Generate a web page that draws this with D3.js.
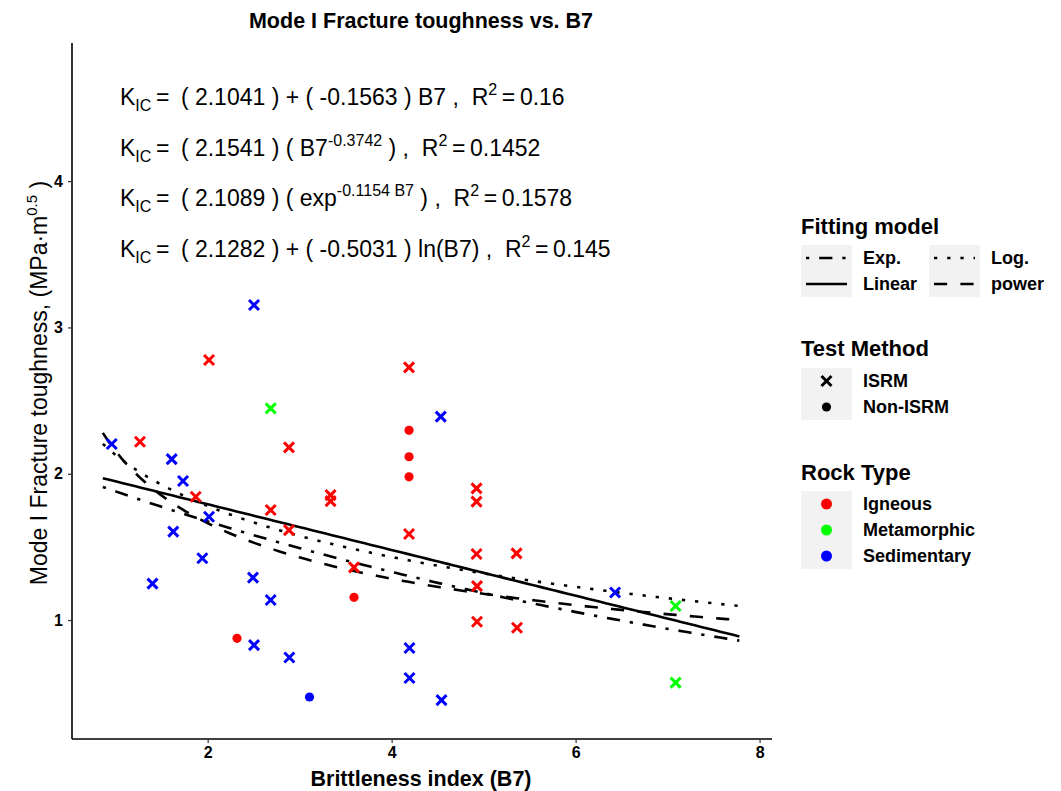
<!DOCTYPE html>
<html>
<head>
<meta charset="utf-8">
<script src="https://cdn.jsdelivr.net/npm/d3@7"></script>
<style>
body { margin: 0; background: #fff; }
text { font-family: "Liberation Sans", Arial, sans-serif; }
</style>
</head>
<body>
<svg width="1061" height="791"></svg>
<script>
// data
const rockTypes = ['Igneous', 'Metamorphic', 'Sedimentary']
const rockColors = ['#ff0000', '#00ff00', '#0000ff']
const testMethods = ['ISRM', 'Non-ISRM']

const b7 = [
	0.957, 1.609, 1.732, 2.015, 1.626, 1.942, 1.400, 2.493, 2.685, 2.504, 2.888, 2.504, 4.194, 4.194, 4.542, 4.534, 6.429,
	3.107,
	1.264, 2.015, 2.884, 1.870, 2.685, 2.884, 3.336, 3.336, 3.591, 4.189, 4.189, 4.923, 4.923, 4.923, 5.358, 4.928, 4.928, 5.363,
	4.189, 4.189, 4.189, 3.591, 2.319,
	2.685, 7.087, 7.087
]
const kic = [
	2.203, 2.100, 1.950, 1.706, 1.604, 1.422, 1.249, 1.290, 1.137, 0.829, 0.744, 3.153, 0.809, 0.604, 0.453, 2.390, 1.188,
	0.474,
	2.219, 2.777, 2.180, 1.843, 1.752, 1.615, 1.854, 1.813, 1.360, 2.727, 1.588, 1.900, 1.809, 1.451, 1.456, 1.232, 0.988, 0.947,
	2.297, 2.116, 1.979, 1.155, 0.875,
	2.447, 1.096, 0.572
]
const rock = [
	'Sedimentary', 'Sedimentary', 'Sedimentary', 'Sedimentary', 'Sedimentary', 'Sedimentary', 'Sedimentary', 'Sedimentary', 'Sedimentary',
	'Sedimentary', 'Sedimentary', 'Sedimentary', 'Sedimentary', 'Sedimentary', 'Sedimentary', 'Sedimentary', 'Sedimentary',
	'Sedimentary',
	'Igneous', 'Igneous', 'Igneous', 'Igneous', 'Igneous', 'Igneous', 'Igneous', 'Igneous', 'Igneous', 'Igneous', 'Igneous',
	'Igneous', 'Igneous', 'Igneous', 'Igneous', 'Igneous', 'Igneous', 'Igneous',
	'Igneous', 'Igneous', 'Igneous', 'Igneous', 'Igneous',
	'Metamorphic', 'Metamorphic', 'Metamorphic'
]
const method = [
	'ISRM', 'ISRM', 'ISRM', 'ISRM', 'ISRM', 'ISRM', 'ISRM', 'ISRM', 'ISRM', 'ISRM', 'ISRM', 'ISRM', 'ISRM', 'ISRM', 'ISRM', 'ISRM', 'ISRM',
	'Non-ISRM',
	'ISRM', 'ISRM', 'ISRM', 'ISRM', 'ISRM', 'ISRM', 'ISRM', 'ISRM', 'ISRM', 'ISRM', 'ISRM', 'ISRM', 'ISRM', 'ISRM', 'ISRM', 'ISRM', 'ISRM', 'ISRM',
	'Non-ISRM', 'Non-ISRM', 'Non-ISRM', 'Non-ISRM', 'Non-ISRM',
	'ISRM', 'ISRM', 'ISRM'
]

// fitted models, coefficients as printed on the chart
const fitModels = ['Exp.', 'Linear', 'Log.', 'power']
const fitA = [2.1089, 2.1041, 2.1282, 2.1541]
const fitB = [-0.1154, -0.1563, -0.5031, -0.3742]
const fitRange = [0.86, 7.78]

const xTicks = [2, 4, 6, 8]
const yTicks = [1, 2, 3, 4]

const fitFn = {
	'Exp.': (a, b, x) => a * Math.exp(b * x),
	'Linear': (a, b, x) => a + b * x,
	'Log.': (a, b, x) => a + b * Math.log(x),
	'power': (a, b, x) => a * Math.pow(x, b)
}
const lw = 2.6
const u = 3.3
const dashes = {
	'Exp.': [1, 3, 4, 3].map(d => d * u).join(' '),
	'Linear': null,
	'Log.': [1, 3].map(d => d * u).join(' '),
	'power': [4, 4].map(d => d * u).join(' ')
}

let svg = d3.select('svg')

let scX = d3.scaleLinear().domain([0.525, 8.135]).range([72, 772])
let scY = d3.scaleLinear().domain([0.187, 4.944]).range([739, 43])

// title
svg.append('text')
.attr('x', 421).attr('y', 28)
.attr('text-anchor', 'middle')
.attr('font-weight', 'bold').attr('font-size', 21.5)
.text('Mode I Fracture toughness vs. B7')

// axes
let gx = svg.append('g').attr('transform', 'translate(0,739)')
.call(d3.axisBottom(scX).tickValues(xTicks).tickSize(4).tickPadding(4).tickFormat(d3.format('d')))
let gy = svg.append('g').attr('transform', 'translate(72,0)')
.call(d3.axisLeft(scY).tickValues(yTicks).tickSize(4).tickPadding(5).tickFormat(d3.format('d')))
;[gx, gy].forEach(g => {
	g.select('.domain').attr('stroke', '#000').attr('stroke-width', 1.6)
	g.selectAll('.tick line').attr('stroke', '#333').attr('stroke-width', 1.2)
	g.selectAll('.tick text').attr('fill', '#000').attr('font-size', 16).attr('font-weight', 'bold')
	.style('font-family', '"Liberation Sans", Arial, sans-serif')
})
gx.select('.domain').attr('d', 'M72,0H772')
gy.select('.domain').attr('d', 'M0,43V739')

svg.append('text')
.attr('x', 421).attr('y', 786)
.attr('text-anchor', 'middle')
.attr('font-weight', 'bold').attr('font-size', 21.5)
.text('Brittleness index (B7)')

let yt = svg.append('text')
.attr('transform', 'translate(47,383) rotate(-90)')
.attr('text-anchor', 'middle')
.attr('font-size', 23)
yt.append('tspan').text('Mode I Fracture toughness, (MPa\u00b7m')
yt.append('tspan').attr('font-size', 15).attr('dy', -10).text('0.5')
yt.append('tspan').attr('dy', 10).text(' )')

// fitted lines
let line = d3.line().x(d => scX(d[0])).y(d => scY(d[1]))
let xs = d3.range(0, 101).map(i => fitRange[0] + (fitRange[1] - fitRange[0]) * i / 100)
svg.append('g')
.selectAll('path')
.data(fitModels).enter()
.append('path')
.attr('fill', 'none')
.attr('stroke', '#000')
.attr('stroke-width', lw)
.attr('stroke-dasharray', d => dashes[d])
.attr('d', (d, i) => line(xs.map(x => [x, fitFn[d](fitA[i], fitB[i], x)])))

// points
let pts = b7.map((x, i) => ({ x: x, y: kic[i], rock: rock[i], method: method[i] }))
let color = d3.scaleOrdinal().domain(rockTypes).range(rockColors)
const cross = 'M-5,-5L5,5M-5,5L5,-5'

let gp = svg.append('g')
gp.selectAll('path')
.data(pts.filter(d => d.method == 'ISRM')).enter()
.append('path')
.attr('transform', d => `translate(${scX(d.x)},${scY(d.y)})`)
.attr('d', cross)
.attr('stroke', d => color(d.rock))
.attr('stroke-width', 3)
.attr('fill', 'none')
gp.selectAll('circle')
.data(pts.filter(d => d.method == 'Non-ISRM')).enter()
.append('circle')
.attr('cx', d => scX(d.x))
.attr('cy', d => scY(d.y))
.attr('r', 4.6)
.attr('fill', d => color(d.rock))

// equations
const eqFont = 23
const eq0 = '\u2009=\u2002( '
const eqR = '\u2009=\u2009'
const eqLines = [
	[['K'], ['IC', 'sub'], [eq0 + '2.1041 ) + ( -0.1563 ) B7 ,  R'], ['2', 'sup'], [eqR + '0.16']],
	[['K'], ['IC', 'sub'], [eq0 + '2.1541 ) ( B7'], ['-0.3742', 'sup'], [' ) ,  R'], ['2', 'sup'], [eqR + '0.1452']],
	[['K'], ['IC', 'sub'], [eq0 + '2.1089 ) ( exp'], ['-0.1154 B7', 'sup'], [' ) ,  R'], ['2', 'sup'], [eqR + '0.1578']],
	[['K'], ['IC', 'sub'], [eq0 + '2.1282 ) + ( -0.5031 ) ln(B7) ,  R'], ['2', 'sup'], [eqR + '0.145']]
]
eqLines.forEach((parts, li) => {
	let t = svg.append('text')
	.attr('x', 120).attr('y', 105 + li * 50.5)
	.attr('font-size', eqFont)
	.attr('xml:space', 'preserve')
	.style('white-space', 'pre')
	let shift = 0
	parts.forEach(p => {
		let target = p[1] == 'sub' ? 6 : p[1] == 'sup' ? -10 : 0
		t.append('tspan')
		.attr('dy', target - shift)
		.attr('font-size', p[1] ? 16 : eqFont)
		.text(p[0])
		shift = target
	})
})

// legends
const keyX = 801, keyW = 51, keyH = 26
let leg = svg.append('g')
const legTitle = (y, txt) => leg.append('text')
.attr('x', keyX).attr('y', y)
.attr('font-weight', 'bold').attr('font-size', 22)
.text(txt)
const legLabel = (x, y, txt) => leg.append('text')
.attr('x', x).attr('y', y + 6)
.attr('font-weight', 'bold').attr('font-size', 18)
.text(txt)

legTitle(234, 'Fitting model')
const fitCol = [0, 0, 1, 1]
const fitRow = [0, 1, 0, 1]
;[0, 1].forEach(c => {
	leg.append('rect').attr('x', keyX + c * 128).attr('y', 245).attr('width', keyW).attr('height', keyH * 2).attr('fill', '#f2f2f2')
})
fitModels.forEach((m, i) => {
	let x0 = keyX + fitCol[i] * 128
	let y0 = 245 + fitRow[i] * keyH + keyH / 2
	leg.append('line')
	.attr('x1', x0 + 5).attr('x2', x0 + keyW - 5)
	.attr('y1', y0).attr('y2', y0)
	.attr('stroke', '#000').attr('stroke-width', lw)
	.attr('stroke-dasharray', dashes[m])
	legLabel(x0 + 62, y0, m)
})

legTitle(356, 'Test Method')
leg.append('rect').attr('x', keyX).attr('y', 368).attr('width', keyW).attr('height', keyH * 2).attr('fill', '#f2f2f2')
testMethods.forEach((m, i) => {
	let cy = 368 + i * keyH + keyH / 2
	if (m == 'ISRM') {
		leg.append('path').attr('transform', `translate(${keyX + keyW / 2},${cy})`)
		.attr('d', cross).attr('stroke', '#000').attr('stroke-width', 3)
	} else {
		leg.append('circle').attr('cx', keyX + keyW / 2).attr('cy', cy).attr('r', 4.6).attr('fill', '#000')
	}
	legLabel(keyX + 62, cy, m)
})

legTitle(480, 'Rock Type')
leg.append('rect').attr('x', keyX).attr('y', 491).attr('width', keyW).attr('height', keyH * 3).attr('fill', '#f2f2f2')
rockTypes.forEach((r, i) => {
	let cy = 491 + i * keyH + keyH / 2
	leg.append('circle').attr('cx', keyX + keyW / 2).attr('cy', cy).attr('r', 5.5).attr('fill', color(r))
	legLabel(keyX + 62, cy, r)
})
</script>
</body>
</html>
